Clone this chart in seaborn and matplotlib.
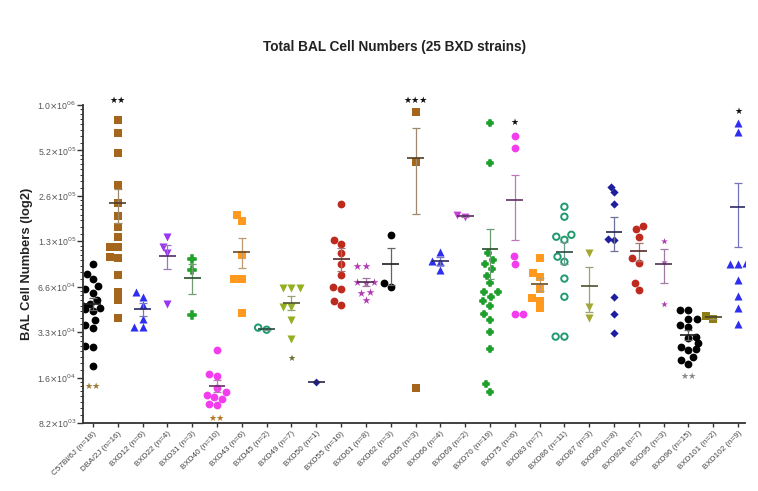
import numpy as np
import matplotlib
matplotlib.use("Agg")
import matplotlib.pyplot as plt
import matplotlib.ticker as mticker
import matplotlib.colors as mcolors
import seaborn as sns

sns.set_style("white")
plt.rcParams['font.family'] = ['Liberation Sans', 'DejaVu Sans']

# ---------------- data ----------------
strains = ["C57Bl/6J", "DBA/2J", "BXD12", "BXD22", "BXD31", "BXD40", "BXD43", "BXD45",
           "BXD49", "BXD50", "BXD55", "BXD61", "BXD62", "BXD65", "BXD66", "BXD69",
           "BXD70", "BXD75", "BXD83", "BXD86", "BXD87", "BXD90", "BXD92a", "BXD95",
           "BXD96", "BXD101", "BXD102"]

c57 = [93300, 80100, 74250, 66000, 62900, 59900, 53200, 50700, 48700, 47700, 46300,
       45400, 39300, 36400, 35100, 26400, 26200, 19400]
dba = [834000, 680500, 501000, 309000, 233700, 192600, 163600, 140500, 120600, 120600,
       103600, 100800, 78400, 60800, 53300, 40900]
bxd12 = [60800, 56200, 49500, 40300, 35500, 35500]
bxd22 = [140500, 120600, 108800, 50700]
bxd31 = [99300, 84600, 42300]
bxd40 = [24800, 17200, 16800, 13900, 13200, 12500, 12200, 11900, 11000, 10800]
bxd43 = [196000, 179000, 106000, 73700, 73700, 44100]
bxd45 = [35100, 34000]
bxd49 = [64600, 64600, 64600, 48300, 48300, 39400, 29700]
bxd50 = [15200]
bxd55 = [231000, 134000, 126000, 110000, 93300, 78400, 65500, 63300, 52900, 49500]
bxd61 = [90200, 90200, 70700, 70700, 68900, 60800, 59900, 53700]
bxd62 = [144700, 69600, 65500]
bxd65 = [946000, 440000, 13900]
bxd66 = [112000, 97200, 95800, 84600]
bxd69 = [190000, 195000]
bxd70 = [794000, 431000, 108800, 98500, 93300, 85800, 77500, 68900, 60800, 60800,
         56200, 52900, 48700, 43100, 39300, 32900, 25500, 14800, 13200]
bxd75 = [654000, 542000, 105000, 93300, 43100, 43100]
bxd83 = [100800, 81200, 76400, 63700, 55400, 52900, 47100]
bxd86 = [222000, 190600, 144700, 140500, 134000, 103600, 95800, 74200, 56200, 30600, 30600]
bxd87 = [110000, 48300, 40900]
bxd90 = [301000, 279000, 230000, 136600, 134000, 56200, 43100, 32100]
bxd92a = [164900, 157000, 140500, 100800, 94600, 69600, 62600]
bxd95 = [132000, 95800, 50700]
bxd96 = [45600, 45600, 40300, 40300, 36400, 35500, 30600, 29800, 27600, 26200, 25500,
         24800, 22500, 21300, 20300]
bxd101 = [41700, 40300]
bxd102 = [794000, 691000, 94600, 92700, 92700, 72500, 57100, 47100, 37200]

values = [c57, dba, bxd12, bxd22, bxd31, bxd40, bxd43, bxd45, bxd49, bxd50, bxd55,
          bxd61, bxd62, bxd65, bxd66, bxd69, bxd70, bxd75, bxd83, bxd86, bxd87, bxd90,
          bxd92a, bxd95, bxd96, bxd101, bxd102]

tick_labels = [f"{s} (n={len(v)})" for s, v in zip(strains, values)]
y_ticks = [2 ** k for k in range(13, 21)]
y_tick_labels = [r"8.2$\times$10$^{03}$", r"1.6$\times$10$^{04}$", r"3.3$\times$10$^{04}$",
                 r"6.6$\times$10$^{04}$", r"1.3$\times$10$^{05}$", r"2.6$\times$10$^{05}$",
                 r"5.2$\times$10$^{05}$", r"1.0$\times$10$^{06}$"]

# significance marks: (strain, text, y value, colour)
sig_marks = [("DBA/2J", "★★", 2 ** 20.09, "#111111"),
             ("BXD65", "★★★", 2 ** 20.11, "#111111"),
             ("BXD75", "★", 2 ** 19.61, "#111111"),
             ("BXD102", "★", 2 ** 19.86, "#111111"),
             ("C57Bl/6J", "★★", 2 ** 13.81, "#A07A35"),
             ("BXD40", "★★", 2 ** 13.10, "#B07A25"),
             ("BXD49", "★", 2 ** 14.43, "#6E6E30"),
             ("BXD96", "★★", 2 ** 14.02, "#8A8A8A")]

# ---------------- styles ----------------
styles = {
    "C57Bl/6J": ("o", "#000000", 5.6, True),
    "DBA/2J": ("s", "#A4661C", 5.4, True),
    "BXD12": ("^", "#2E2EF0", 5.8, True),
    "BXD22": ("v", "#9A35F0", 5.8, True),
    "BXD31": ("P", "#22A22A", 5.2, True),
    "BXD40": ("o", "#F23CEE", 5.6, True),
    "BXD43": ("s", "#FF9A1E", 5.4, True),
    "BXD45": ("o", "#1F9A6E", 4.6, False),
    "BXD49": ("v", "#93B020", 5.8, True),
    "BXD50": ("D", "#1E1E96", 4.0, True),
    "BXD55": ("o", "#BE2A1E", 5.6, True),
    "BXD61": ("*", "#B03CB4", 6.0, True),
    "BXD62": ("o", "#000000", 5.6, True),
    "BXD65": ("s", "#A4661C", 5.4, True),
    "BXD66": ("^", "#2E2EF0", 5.8, True),
    "BXD69": ("v", "#C83CD8", 5.6, True),
    "BXD70": ("P", "#1E9E2A", 4.8, True),
    "BXD75": ("o", "#F23CEE", 5.6, True),
    "BXD83": ("s", "#FF9A1E", 5.4, True),
    "BXD86": ("o", "#1F9A6E", 4.6, False),
    "BXD87": ("v", "#A2A830", 5.8, True),
    "BXD90": ("D", "#1E1E9E", 4.2, True),
    "BXD92a": ("o", "#BE2A1E", 5.6, True),
    "BXD95": ("*", "#B03CB4", 5.0, True),
    "BXD96": ("o", "#000000", 5.6, True),
    "BXD101": ("s", "#8E7C14", 5.4, True),
    "BXD102": ("^", "#2E2EF0", 5.8, True),
}


def mix(c1, c2, w):
    a = np.array(mcolors.to_rgb(c1))
    b = np.array(mcolors.to_rgb(c2))
    return tuple(w * a + (1 - w) * b)


fig = plt.figure(figsize=(7.58, 4.91), dpi=100)
ax = fig.add_axes([0.1095, 0.1385, 0.8734, 0.6477])
ax.set_yscale("log", base=2)
ax.set_ylim(2 ** 13, 2 ** 20)

for s, v in zip(strains, values):
    m, c, sz, filled = styles[s]
    n_before = len(ax.collections)
    lw = 1.2 if m == "P" else 0
    sns.swarmplot(x=[s] * len(v), y=v, order=strains, color=c, marker=m, size=sz,
                  linewidth=lw, edgecolor=c, ax=ax, zorder=2)
    if not filled:
        for coll in ax.collections[n_before:]:
            coll.set_facecolor("none")
            coll.set_edgecolor(c)
            coll.set_linewidth(1.4)

# mean +/- SEM
for i, (s, v) in enumerate(zip(strains, values)):
    c = styles[s][1]
    arr = np.array(v, dtype=float)
    mean = arr.mean()
    if len(arr) > 1:
        sem = arr.std(ddof=1) / np.sqrt(len(arr))
        ax.errorbar(i, mean, yerr=sem, fmt="none", ecolor=mix(c, "#9a9a9a", 0.35),
                    elinewidth=0.9, capsize=3.2, capthick=0.9, zorder=3)
    ax.hlines(mean, i - 0.34, i + 0.34, color=mix(c, "#2a2a2a", 0.3), lw=1.2, zorder=4)

for s, txt, yv, col in sig_marks:
    ax.text(strains.index(s), yv, txt, ha="center", va="center", fontsize=6.5,
            color=col, family="DejaVu Sans", clip_on=False, zorder=5)

ax.set_xlim(-0.4, 26.28)
ax.set_xticks(range(len(strains)))
ax.set_xticklabels(tick_labels, rotation=45, ha="right", rotation_mode="anchor",
                   fontsize=5.9, color="#444444")
ax.set_yticks(y_ticks)
ax.set_yticklabels(y_tick_labels, fontsize=6.3, color="#555555")
ax.yaxis.set_minor_locator(mticker.LogLocator(base=2, subs=np.linspace(1, 2, 9)[1:-1]))
ax.yaxis.set_minor_formatter(mticker.NullFormatter())
ax.tick_params(axis="y", which="major", length=4, width=1, color="#333333", left=True, pad=1)
ax.tick_params(axis="y", which="minor", length=2, width=0.7, color="#333333", left=True)
ax.tick_params(axis="x", which="major", length=3, width=1, color="#333333", bottom=True, pad=2)
ax.set_xlabel("")
ax.set_ylabel("BAL Cell Numbers (log2)", fontsize=9.4, fontweight="bold", color="#222222",
              labelpad=3)
for sp in ["top", "right"]:
    ax.spines[sp].set_visible(False)
for sp in ["left", "bottom"]:
    ax.spines[sp].set_color("#333333")
    ax.spines[sp].set_linewidth(1.3)

fig.text(0.521, 0.904, "Total BAL Cell Numbers (25 BXD strains)", ha="center", va="center",
         fontsize=9.8, fontweight="bold", color="#222222")

fig.savefig("out.png", dpi=100)
